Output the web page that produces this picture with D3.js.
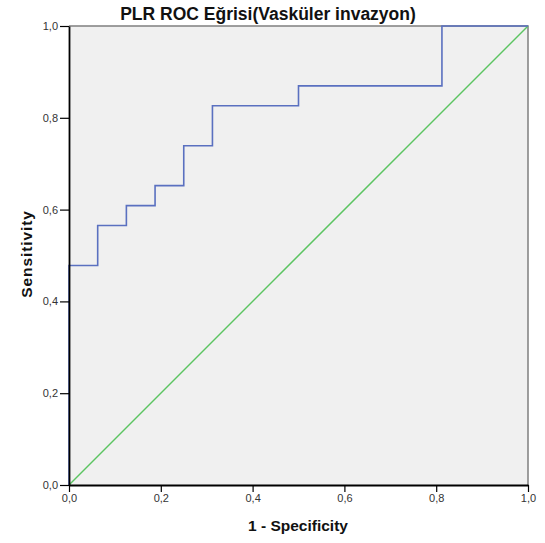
<!DOCTYPE html>
<html><head><meta charset="utf-8">
<script src="https://cdn.jsdelivr.net/npm/d3@7"></script>
<style>body{margin:0;background:#fff}</style>
</head><body>
<svg id="c" width="545" height="543"></svg>
<script>
const rocX = [0, 0, 0.0625, 0.0625, 0.125, 0.125, 0.1875, 0.1875, 0.25, 0.25, 0.3125, 0.3125, 0.5, 0.5, 0.8125, 0.8125, 1];
const rocY = [0, 0.4783, 0.4783, 0.5652, 0.5652, 0.6087, 0.6087, 0.6522, 0.6522, 0.7391, 0.7391, 0.8261, 0.8261, 0.8696, 0.8696, 1, 1];
const refX = [0, 1];
const refY = [0, 1];
const ticks = [0, 0.2, 0.4, 0.6, 0.8, 1.0];
const tickLabels = ["0,0", "0,2", "0,4", "0,6", "0,8", "1,0"];

const svg = d3.select("#c");
const L = 69, R = 528, T = 26, B = 485;
const x = d3.scaleLinear().domain([0, 1]).range([L, R]);
const y = d3.scaleLinear().domain([0, 1]).range([B, T]);
const font = "'Liberation Sans', Arial, sans-serif";

svg.append("rect").attr("x", L).attr("y", T).attr("width", R - L).attr("height", B - T).attr("fill", "#f0f0f0");
// frame top/right
svg.append("path").attr("d", `M${L},${T}H${R}V${B}`).attr("fill", "none").attr("stroke", "#7f7f7f").attr("stroke-width", 1.5);

const line = d3.line().x(d => x(d[0])).y(d => y(d[1])).curve(d3.curveLinear);
svg.append("path").datum(refX.map((v, i) => [v, refY[i]])).attr("d", line)
  .attr("fill", "none").attr("stroke", "#5bc461").attr("stroke-width", 1.5);
svg.append("path").datum(rocX.map((v, i) => [v, rocY[i]])).attr("d", line)
  .attr("fill", "none").attr("stroke", "#5a70c0").attr("stroke-width", 1.6);

const xAxis = d3.axisBottom(x).tickValues(ticks).tickFormat((d, i) => tickLabels[i]).tickSize(7).tickSizeOuter(0).tickPadding(2);
const gx = svg.append("g").attr("transform", `translate(0,${B})`).call(xAxis);
const yAxis = d3.axisLeft(y).tickValues(ticks).tickFormat((d, i) => tickLabels[i]).tickSize(9).tickSizeOuter(0).tickPadding(2);
const gy = svg.append("g").attr("transform", `translate(${L},0)`).call(yAxis);
[gx, gy].forEach(g => {
  g.select(".domain").attr("stroke", "#000").attr("stroke-width", 1.8);
  g.selectAll(".tick line").attr("stroke", "#000").attr("stroke-width", 1.2);
  g.selectAll("text").attr("font-family", font).attr("font-size", 11).attr("fill", "#333");
});

svg.append("text").attr("x", 268).attr("y", 20).attr("text-anchor", "middle")
  .attr("font-family", font).attr("font-size", 17.5).attr("font-weight", "bold").attr("fill", "#111")
  .text("PLR ROC Eğrisi(Vasküler invazyon)");
svg.append("text").attr("x", 298).attr("y", 531).attr("text-anchor", "middle")
  .attr("font-family", font).attr("font-size", 15.5).attr("font-weight", "bold").attr("fill", "#111")
  .text("1 - Specificity");
svg.append("text").attr("transform", "translate(32,254) rotate(-90)").attr("text-anchor", "middle")
  .attr("font-family", font).attr("font-size", 15.5).attr("font-weight", "bold").attr("fill", "#111")
  .attr("letter-spacing", 0.9)
  .text("Sensitivity");
</script>
</body></html>
